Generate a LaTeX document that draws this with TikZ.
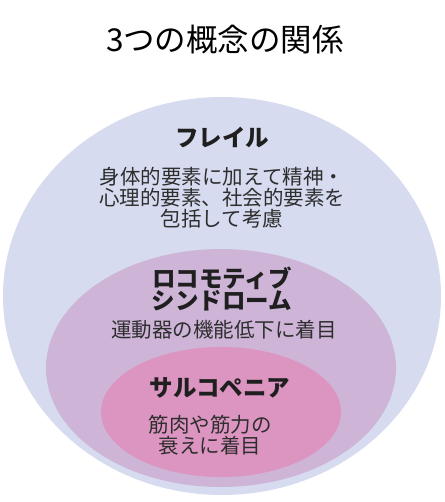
\documentclass[tikz,border=0pt]{standalone}
\usepackage{fontspec}
\newfontfamily\jp{Noto Sans CJK JP}
\definecolor{frailblue}{RGB}{214,219,239}
\definecolor{locopurple}{RGB}{206,181,216}
\definecolor{sarcopink}{RGB}{219,149,192}
\begin{document}
\begin{tikzpicture}[x=1pt,y=-1pt,
    title/.style ={font=\jp\fontsize{31.5}{34}\selectfont, text=black},
    heading/.style ={font=\jp\bfseries\fontsize{23.5}{22.5}\selectfont, align=center, text=black!88},
    note/.style ={font=\jp\fontsize{20.5}{21}\selectfont, align=center, text=black!82}]
   \useasboundingbox (0,0) rectangle (444,502);

   \fill[frailblue] (222,296) ellipse [x radius=219pt, y radius=199pt];
   \fill[locopurple] (221,368) ellipse [x radius=175pt, y radius=119pt];
   \fill[sarcopink] (221,412) ellipse [x radius=120pt, y radius=65pt];

   \node[title] (T) at (225,40) {3つの概念の関係};

   \node[heading] (F) at (222,138) {フレイル};
   \node[note] (Fn) at (222,198) {身体的要素に加えて精神・\\心理的要素、社会的要素を\\包括して考慮};

   \node[heading] (L) at (222,289) {ロコモティブ\\シンドローム};
   \node[note] (Ln) at (224,330) {運動器の機能低下に着目};

   \node[heading] (S) at (220,388) {サルコペニア};
   \node[note] (Sn) at (210,435) {筋肉や筋力の\\衰えに着目};
 \end{tikzpicture}
\end{document}
